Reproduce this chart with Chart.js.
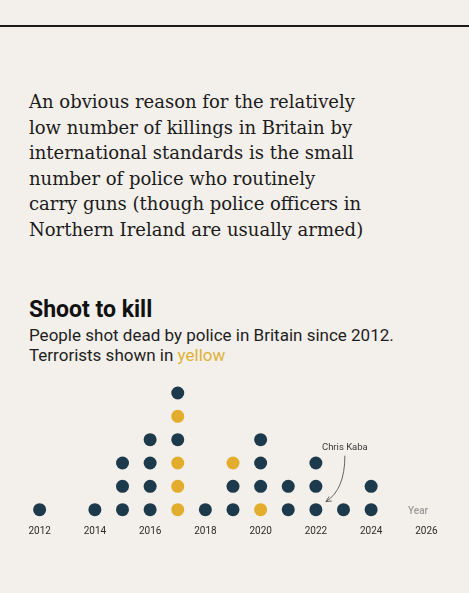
<!DOCTYPE html>
<html>
<head>
<meta charset="utf-8">
<script src="https://cdn.jsdelivr.net/npm/chart.js@4.4.1/dist/chart.umd.min.js"></script>
<style>
  html, body { margin: 0; padding: 0; }
  body { width: 469px; height: 593px; background: #f3efea; position: relative; overflow: hidden; font-family: Roboto, "Noto Sans", sans-serif; }
  .rule { position: absolute; left: 0; top: 25px; width: 469px; height: 2px; background: #1a1a1a; }
  .para { position: absolute; left: 29px; top: 89px; width: 430px; font-family: "DejaVu Serif", serif; font-size: 18px; line-height: 25.6px; color: #1b1b1b; }
  .title { position: absolute; left: 29px; top: 296px; font-family: Roboto, sans-serif; font-weight: 700; font-size: 23px; line-height: 27px; color: #111; }
  .sub { position: absolute; left: 29px; top: 326px; font-family: Roboto, sans-serif; font-size: 17px; line-height: 19.5px; color: #1e1e1e; }
  .sub .y { color: #e0b23a; }
  #wrap { position: absolute; left: 0; top: 370px; width: 469px; height: 180px; }
</style>
</head>
<body>
<div class="rule"></div>
<div class="para">An obvious reason for the relatively<br>low number of killings in Britain by<br>international standards is the small<br>number of police who routinely<br>carry guns (though police officers in<br>Northern Ireland are usually armed)</div>
<div class="title">Shoot to kill</div>
<div class="sub">People shot dead by police in Britain since 2012.<br>Terrorists shown in <span class="y">yellow</span></div>
<div id="wrap"><canvas id="c" width="469" height="180"></canvas></div>
<script>
// Years and the stack of dots for each year, bottom to top.
// "D" = person shot dead (non-terrorist), "Y" = terrorist
const years = [2012, 2013, 2014, 2015, 2016, 2017, 2018, 2019, 2020, 2021, 2022, 2023, 2024];
const dotStacks = ["D", "", "D", "DDD", "DDDD", "YYYDYD", "D", "DDY", "YDDD", "DD", "DDD", "D", "DD"];
const tickYears = [2012, 2014, 2016, 2018, 2020, 2022, 2024, 2026];
const annotationLabel = "Chris Kaba";
const annotationYear = 2022;
const annotationRow = 1;
const axisLabel = "Year";

const darkColor = "#1d3a4c";
const yellowColor = "#e2ad2c";

const points = [];
const colors = [];
years.forEach((yr, i) => {
  const stack = dotStacks[i];
  for (let k = 0; k < stack.length; k++) {
    points.push({ x: yr, y: k + 1 });
    colors.push(stack[k] === "Y" ? yellowColor : darkColor);
  }
});

const annotPlugin = {
  id: "annot",
  afterDatasetsDraw(chart) {
    const { ctx, scales } = chart;
    const px = scales.x.getPixelForValue(annotationYear);
    const py = scales.y.getPixelForValue(annotationRow);
    ctx.save();
    // label
    ctx.fillStyle = "#3a3a3a";
    ctx.font = "9.5px Roboto, sans-serif";
    ctx.textAlign = "center";
    ctx.textBaseline = "middle";
    ctx.fillText(annotationLabel, px + 29, py - 62);
    // curved arrow
    const sx = px + 29, sy = py - 54;
    const ex = px + 10, ey = py - 8;
    const cx = px + 29, cy = py - 20;
    ctx.strokeStyle = "#555";
    ctx.lineWidth = 0.9;
    ctx.beginPath();
    ctx.moveTo(sx, sy);
    ctx.quadraticCurveTo(cx, cy, ex, ey);
    ctx.stroke();
    const ang = Math.atan2(ey - cy, ex - cx);
    const L = 6;
    ctx.beginPath();
    ctx.moveTo(ex + L * Math.cos(ang + Math.PI - 0.45), ey + L * Math.sin(ang + Math.PI - 0.45));
    ctx.lineTo(ex, ey);
    ctx.lineTo(ex + L * Math.cos(ang + Math.PI + 0.45), ey + L * Math.sin(ang + Math.PI + 0.45));
    ctx.stroke();
    // axis label
    ctx.fillStyle = "#9a9a9a";
    ctx.font = "500 10px Roboto, sans-serif";
    ctx.textAlign = "center";
    ctx.fillText(axisLabel, scales.x.getPixelForValue(2025.7), scales.y.getPixelForValue(1) + 2);
    ctx.restore();
  }
};

new Chart(document.getElementById("c"), {
  type: "scatter",
  data: {
    datasets: [{
      data: points,
      pointBackgroundColor: colors,
      pointBorderWidth: 0,
      pointRadius: 6.5,
      pointHoverRadius: 6.5,
      clip: false
    }]
  },
  options: {
    responsive: false,
    animation: false,
    events: [],
    layout: { padding: { left: 12, right: 15, top: 9, bottom: 7 } },
    plugins: { legend: { display: false }, tooltip: { enabled: false } },
    scales: {
      x: {
        type: "linear",
        min: 2011,
        max: 2027,
        afterBuildTicks(scale) { scale.ticks = tickYears.map(v => ({ value: v })); },
        grid: { display: false, drawTicks: false, tickLength: 0 },
        border: { display: false },
        ticks: {
          padding: 6,
          color: "#2b2b2b",
          font: { family: "Roboto", size: 10 },
          maxRotation: 0,
          autoSkip: false,
          callback: (v) => String(v)
        }
      },
      y: {
        display: false,
        min: 0.6,
        max: 6.6
      }
    }
  },
  plugins: [annotPlugin]
});
</script>
</body>
</html>
